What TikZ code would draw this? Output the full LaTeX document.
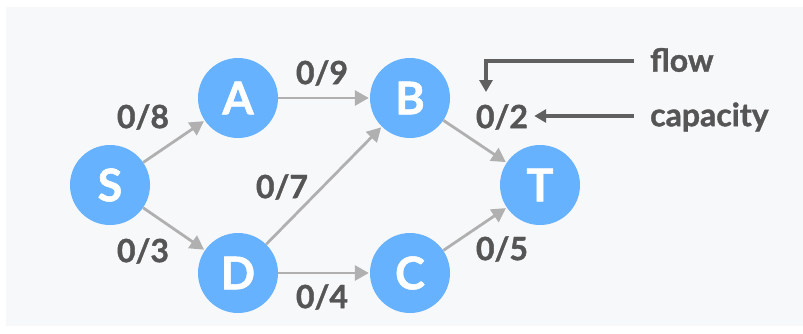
\documentclass[tikz,border=0pt]{standalone}
\usepackage{fontspec}
\setmainfont{Lato}
\newfontfamily\heavyfont[FakeBold=1.2]{Lato Bold}
\usetikzlibrary{arrows.meta}
\definecolor{bgc}{HTML}{F7F8FA}
\definecolor{nodec}{HTML}{66B2FF}
\definecolor{edgec}{HTML}{B0B0B0}
\definecolor{txtc}{HTML}{555555}
\definecolor{annc}{HTML}{606060}
\begin{document}
\begin{tikzpicture}[x=1pt,y=-1pt,
  vertex/.style={circle,fill=nodec,minimum size=80pt,inner sep=0pt,text=white,font=\fontsize{45}{45}\selectfont\heavyfont},
  edge/.style={draw=edgec,line width=2.8pt,-{Triangle[length=14pt,width=15pt]},shorten >=1pt},
  lbl/.style={text=txtc,font=\fontsize{32}{32}\selectfont\heavyfont,inner sep=0pt},
  ann/.style={draw=annc,line width=3.2pt,-{Triangle[length=12pt,width=13pt]}}]
\useasboundingbox (0,0) rectangle (803,333);
\fill[white] (0,0) rectangle (803,333);
\fill[bgc] (6,7) rectangle (803,326);
\node[vertex] (S) at (110,185) {S};
\node[vertex] (A) at (238,98) {A};
\node[vertex] (B) at (410,98) {B};
\node[vertex] (D) at (238,273) {D};
\node[vertex] (C) at (410,273) {C};
\node[vertex] (T) at (540,185) {T};
\draw[edge] (S) -- (A);
\draw[edge] (S) -- (D);
\draw[edge] (A) -- (B);
\draw[edge] (D) -- (B);
\draw[edge] (D) -- (C);
\draw[edge] (B) -- (T);
\draw[edge] (C) -- (T);
\node[lbl] (l8) at (143,117) {0/8};
\node[lbl] (l3) at (143,251) {0/3};
\node[lbl] (l9) at (322,73) {0/9};
\node[lbl] (l7) at (282,187) {0/7};
\node[lbl] (l4) at (322,297) {0/4};
\node[lbl] (l5) at (502,249) {0/5};
\node[lbl] (l2) at (502,117) {0/2};
\node[lbl,anchor=west] (flow) at (650,60) {flow};
\node[lbl,anchor=west] (cap) at (650,117) {capacity};
\coordinate (fs) at (634,61);
\coordinate (fc) at (486,61);
\coordinate (ft) at (486,92);
\coordinate (ce) at (634,116);
\draw[ann] (fs) -- (fc) -- (ft);
\draw[ann] (ce) -- ([xshift=6pt]l2.east |- ce);
\end{tikzpicture}
\end{document}
